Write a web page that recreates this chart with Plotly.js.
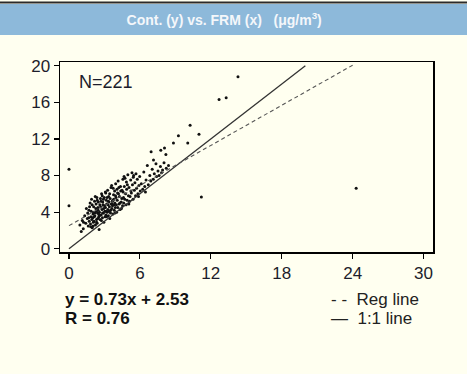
<!DOCTYPE html>
<html>
<head>
<meta charset="utf-8">
<script src="https://cdn.plot.ly/plotly-3.0.1.min.js"></script>
<style>
html,body{margin:0;padding:0;background:#fffff0;}
#chart{width:467px;height:374px;}
</style>
</head>
<body>
<div id="chart"></div>
<script>
// FRM (x) values
const frmX = [
0.92,1.04,1.13,1.21,1.33,1.42,1.47,1.55,
1.63,1.58,1.71,1.74,1.82,1.86,1.79,1.93,1.88,1.97,2.03,1.96,2.06,1.67,1.69,1.84,1.91,2.01,
2.12,2.08,2.16,2.24,2.19,2.27,2.33,2.29,2.36,2.41,2.38,2.45,2.52,2.48,2.55,2.14,2.22,2.31,2.43,2.47,2.18,2.34,2.39,2.51,2.09,
2.63,2.58,2.66,2.72,2.68,2.76,2.83,2.79,2.86,2.92,2.88,2.95,3.03,2.98,3.06,2.61,2.74,2.81,2.94,3.01,2.57,2.71,2.84,2.91,3.08,
3.12,3.09,3.16,3.24,3.19,3.27,3.33,3.29,3.36,3.42,3.38,3.45,3.53,3.48,3.56,3.14,3.22,3.31,3.44,3.51,3.11,3.18,3.34,3.41,3.58,
3.63,3.66,3.61,3.72,3.68,3.77,3.83,3.79,3.86,3.92,3.88,3.95,4.03,3.98,4.06,3.64,3.74,3.81,3.94,4.01,3.71,3.89,
4.13,4.08,4.16,4.24,4.19,4.33,4.27,4.36,4.42,4.38,4.53,4.47,4.56,4.22,4.44,4.11,4.31,4.49,
4.63,4.58,4.66,4.72,4.68,4.83,4.79,4.86,4.92,4.88,5.03,4.98,5.06,4.74,4.94,4.61,
5.13,5.08,5.22,5.17,5.33,5.28,5.42,5.37,5.53,5.47,5.24,5.44,
5.63,5.58,5.72,5.67,5.83,5.78,5.92,6.03,5.98,5.88,
6.12,6.24,6.33,6.41,6.52,6.63,6.71,6.84,6.92,7.04,
7.13,7.22,7.36,7.41,7.53,7.62,7.74,7.83,7.92,8.04,8.23,8.42,
0.0,0.0,6.95,7.15,7.77,8.08,8.2,8.84,9.26,10.05,10.25,11.0,11.2,12.7,13.3,14.3,24.3,
1.23,2.04,6.47
];
// Continuous monitor (y) values
const contY = [
2.6,1.9,3.1,2.2,3.6,2.8,4.4,3.3,
2.5,3.9,3.0,4.6,2.7,3.5,5.0,3.2,4.1,2.3,3.8,4.8,2.9,3.4,4.2,2.4,5.4,3.4,
3.0,4.0,5.2,2.6,3.6,4.4,3.2,4.9,5.6,3.9,2.8,4.5,3.5,5.1,2.1,3.5,5.7,4.1,3.3,4.2,3.9,2.9,5.3,3.8,4.6,
3.2,4.0,5.5,3.7,4.6,6.0,3.4,4.3,5.1,3.9,4.8,2.9,4.1,5.6,3.5,4.8,3.1,5.8,4.4,4.7,3.6,5.2,3.9,5.4,6.2,
3.7,4.5,5.3,4.0,4.9,6.4,3.6,4.3,5.7,4.6,5.1,3.3,4.2,5.5,6.7,4.1,5.6,4.8,6.0,3.9,6.1,3.5,5.2,4.1,4.9,
4.4,5.2,6.9,3.8,4.7,5.9,4.2,5.4,6.3,4.5,5.0,7.1,4.0,5.6,6.5,4.9,6.6,4.8,5.8,4.8,5.3,3.9,
4.5,5.3,7.4,4.9,6.0,4.3,5.7,6.8,5.1,6.3,4.7,5.5,7.6,6.7,4.4,6.1,5.0,6.4,
5.0,6.2,7.9,5.4,6.8,4.8,6.0,7.3,5.3,6.5,5.8,8.1,4.9,7.7,7.0,5.6,
5.2,6.7,7.5,5.7,8.3,6.1,5.4,7.0,6.4,8.0,6.3,7.8,
5.8,7.2,6.6,8.2,6.0,7.6,6.9,6.3,7.9,5.7,
7.1,6.5,8.4,6.8,7.5,9.1,7.0,8.0,7.4,8.7,
7.6,8.2,9.3,7.9,8.5,8.0,9.0,8.3,8.6,9.4,8.8,9.1,
8.7,4.7,10.6,9.7,10.75,11.0,10.3,11.55,12.35,11.55,13.5,12.5,5.65,16.3,16.5,18.8,6.6,
2.9,2.5,6.2
];
const slope = 0.73, intercept = 2.53;
const regX = [0, 24];
const oneX = [0, 20];
const xTicks = [0, 6, 12, 18, 24, 30];
const yTicks = [0, 4, 8, 12, 16, 20];

const traces = [
  {x: frmX, y: contY, type: 'scatter', mode: 'markers',
   marker: {color: '#111', size: 3}, hoverinfo: 'x+y'},
  {x: oneX, y: oneX, type: 'scatter', mode: 'lines',
   line: {color: '#333', width: 1.3}},
  {x: regX, y: regX.map(v => slope * v + intercept), type: 'scatter', mode: 'lines',
   line: {color: '#555', width: 1.1, dash: '4px,3px'}}
];

const FF = 'Liberation Sans, Arial, sans-serif';
const axFont = {family: FF, size: 17, color: '#1d1d2b'};
const layout = {
  width: 467, height: 374,
  paper_bgcolor: '#fffff0', plot_bgcolor: '#fffff0',
  showlegend: false,
  margin: {l: 60, r: 34, t: 62, b: 122},
  title: {text: '<b>Cont. (y) vs. FRM (x)   (μg/m<sup>3</sup>)</b>',
          font: {family: FF, size: 14, color: '#f4f7fa'},
          x: 0.48, xref: 'container', xanchor: 'center',
          y: 1 - 20 / 374, yref: 'container', yanchor: 'middle'},
  xaxis: {range: [-0.76, 30.8], tickvals: xTicks, ticks: 'outside', ticklen: 5,
          tickcolor: '#000', tickwidth: 1.2, showgrid: false, zeroline: false,
          showline: true, linecolor: '#000', linewidth: 1.5, mirror: true,
          tickfont: axFont, fixedrange: true},
  yaxis: {range: [-0.35, 20.4], tickvals: yTicks, ticks: 'outside', ticklen: 5,
          tickcolor: '#000', tickwidth: 1.2, showgrid: false, zeroline: false,
          showline: true, linecolor: '#000', linewidth: 1.5, mirror: true,
          tickfont: axFont, ticklabelstandoff: 0, fixedrange: true},
  shapes: [
    {type: 'rect', xref: 'paper', yref: 'paper', x0: -0.17, x1: 1.1,
     y0: (252 - 35) / 190, y1: (252 - 4) / 190, fillcolor: '#8db9da', line: {width: 0}, layer: 'below'},
    {type: 'rect', xref: 'paper', yref: 'paper', x0: -0.17, x1: 1.1,
     y0: (252 - 3.5) / 190, y1: (252 - 1.5) / 190, fillcolor: '#2b2b2b', line: {width: 0}, layer: 'below'}
  ],
  annotations: [
    {text: 'N=221', xref: 'paper', yref: 'paper', x: (77 - 60) / 373, y: (252 - 82) / 190,
     xanchor: 'left', yanchor: 'middle', showarrow: false,
     font: {family: FF, size: 18, color: '#1d1d2b'}},
    {text: '<b>y = 0.73x + 2.53</b>', xref: 'paper', yref: 'paper', x: (63 - 60) / 373, y: (252 - 299) / 190,
     xanchor: 'left', yanchor: 'middle', showarrow: false,
     font: {family: FF, size: 17, color: '#111'}},
    {text: '<b>R = 0.76</b>', xref: 'paper', yref: 'paper', x: (63 - 60) / 373, y: (252 - 318) / 190,
     xanchor: 'left', yanchor: 'middle', showarrow: false,
     font: {family: FF, size: 17, color: '#111'}},
    {text: '- - &nbsp;Reg line', xref: 'paper', yref: 'paper', x: (329 - 60) / 373, y: (252 - 299) / 190,
     xanchor: 'left', yanchor: 'middle', showarrow: false,
     font: {family: FF, size: 17, color: '#222'}},
    {text: '— &nbsp;1:1 line', xref: 'paper', yref: 'paper', x: (329 - 60) / 373, y: (252 - 318) / 190,
     xanchor: 'left', yanchor: 'middle', showarrow: false,
     font: {family: FF, size: 17, color: '#222'}}
  ]
};
Plotly.newPlot('chart', traces, layout, {displayModeBar: false, staticPlot: true});
</script>
</body>
</html>
